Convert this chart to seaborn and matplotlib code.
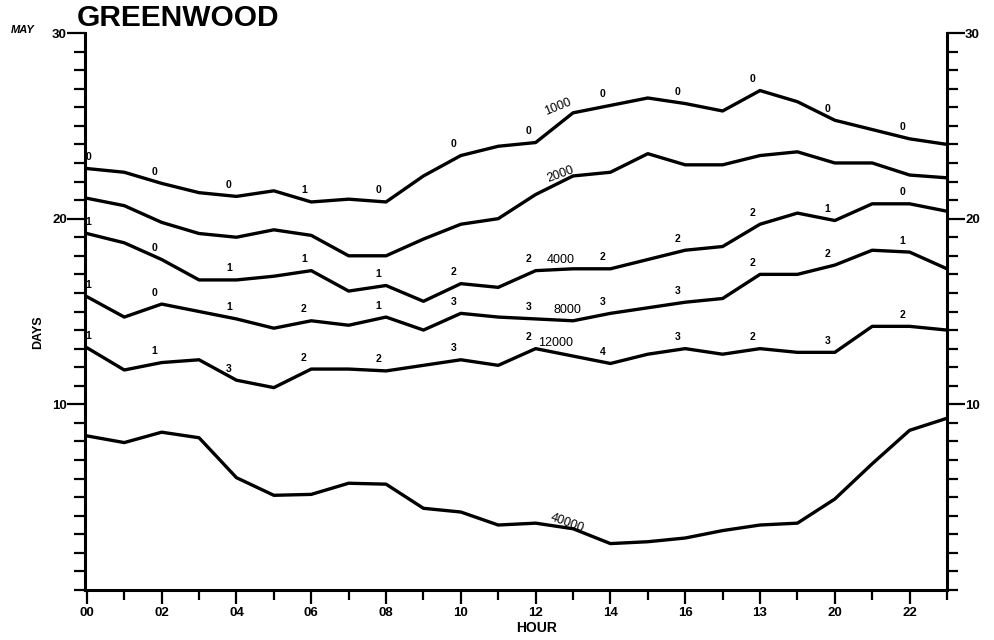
import matplotlib
matplotlib.use("Agg")
import matplotlib.pyplot as plt
import seaborn as sns
import pandas as pd
from matplotlib.ticker import FixedLocator, MultipleLocator

# ---------------- data ----------------
hours = list(range(24))
levels = ["1000", "2000", "4000", "8000", "12000", "40000"]

v1000 = [22.7, 22.5, 21.9, 21.4, 21.2, 21.5, 20.9, 21.05, 20.9, 22.3, 23.4, 23.9,
         24.1, 25.7, 26.1, 26.5, 26.2, 25.8, 26.9, 26.3, 25.3, 24.8, 24.3, 24.0]
v2000 = [21.1, 20.7, 19.8, 19.2, 19.0, 19.4, 19.1, 18.0, 18.0, 18.9, 19.7, 20.0,
         21.3, 22.3, 22.5, 23.5, 22.9, 22.9, 23.4, 23.6, 23.0, 23.0, 22.35, 22.2]
v4000 = [19.2, 18.7, 17.8, 16.7, 16.7, 16.9, 17.2, 16.1, 16.4, 15.55, 16.5, 16.3,
         17.2, 17.3, 17.3, 17.8, 18.3, 18.5, 19.7, 20.3, 19.9, 20.8, 20.8, 20.4]
v8000 = [15.8, 14.7, 15.4, 15.0, 14.6, 14.1, 14.5, 14.26, 14.7, 14.0, 14.9, 14.7,
         14.6, 14.5, 14.9, 15.2, 15.5, 15.7, 17.0, 17.0, 17.5, 18.3, 18.2, 17.3]
v12000 = [13.05, 11.85, 12.25, 12.4, 11.3, 10.9, 11.9, 11.9, 11.8, 12.1, 12.4, 12.1,
          13.0, 12.6, 12.2, 12.7, 13.0, 12.7, 13.0, 12.8, 12.8, 14.2, 14.2, 14.0]
v40000 = [8.3, 7.94, 8.5, 8.2, 6.05, 5.1, 5.15, 5.75, 5.7, 4.4, 4.2, 3.5,
          3.6, 3.3, 2.5, 2.6, 2.8, 3.2, 3.5, 3.6, 4.9, 6.8, 8.6, 9.25]

label_hours = [0, 2, 4, 6, 8, 10, 12, 14, 16, 18, 20, 22]
lab1000 = ["0", "0", "0", "1", "0", "0", "0", "0", "0", "0", "0", "0"]
lab4000 = ["1", "0", "1", "1", "1", "2", "2", "2", "2", "2", "1", "0"]
lab8000 = ["1", "0", "1", "2", "1", "3", "3", "3", "3", "2", "2", "1"]
lab12000 = ["1", "1", "3", "2", "2", "3", "2", "4", "3", "2", "3", "2"]

hour_ticks = [0, 2, 4, 6, 8, 10, 12, 14, 16, 18, 20, 22]
hour_tick_labels = ["00", "02", "04", "06", "08", "10", "12", "14", "16", "13", "20", "22"]
day_ticks = [10, 20, 30]
day_tick_labels = ["10", "20", "30"]

# ---------------- figure ----------------
sns.set_style("ticks")
plt.rcParams["font.family"] = ["Liberation Sans", "DejaVu Sans"]
plt.rcParams["text.color"] = "black"
plt.rcParams["axes.labelcolor"] = "black"
plt.rcParams["xtick.color"] = "black"
plt.rcParams["ytick.color"] = "black"
plt.rcParams["axes.edgecolor"] = "black"

series = {"1000": v1000, "2000": v2000, "4000": v4000,
          "8000": v8000, "12000": v12000, "40000": v40000}
rows = []
for lev in levels:
    for h, v in zip(hours, series[lev]):
        rows.append({"hour": h, "days": v, "level": lev})
df = pd.DataFrame(rows)

fig = plt.figure(figsize=(9.95, 6.4), dpi=100)
ax = fig.add_axes([85 / 995, 1 - 590 / 640, (947 - 85) / 995, (590 - 33) / 640])

sns.lineplot(data=df, x="hour", y="days", hue="level", hue_order=levels,
             palette=["black"] * len(levels), linewidth=2.4, legend=False,
             estimator=None, sort=False, ax=ax)

ax.set_xlim(-0.05, 23)
ax.set_ylim(0, 30)
ax.set_xlabel("")
ax.set_ylabel("")

for s in ["left", "right", "bottom"]:
    ax.spines[s].set_visible(True)
    ax.spines[s].set_linewidth(2.2)
    ax.spines[s].set_color("black")
ax.spines["top"].set_visible(False)

ax.xaxis.set_major_locator(FixedLocator(hour_ticks))
ax.xaxis.set_minor_locator(MultipleLocator(1))
ax.set_xticks(hour_ticks)
ax.set_xticklabels(hour_tick_labels)

ax.yaxis.set_major_locator(FixedLocator(day_ticks))
ax.yaxis.set_minor_locator(MultipleLocator(1))
ax.set_yticks(day_ticks)
ax.set_yticklabels(day_tick_labels)
ax.yaxis.set_ticks_position("both")

ax.tick_params(axis="y", which="major", direction="out", length=13, width=1.6,
               labelsize=9.5, pad=0, left=True, right=True, labelleft=True,
               labelright=True, colors="black")
ax.tick_params(axis="y", which="minor", direction="out", length=8, width=1.6,
               left=True, right=True, colors="black")
ax.tick_params(axis="x", which="major", direction="out", length=10, width=1.6,
               labelsize=9.5, pad=2, colors="black")
ax.tick_params(axis="x", which="minor", direction="out", length=7, width=1.6,
               colors="black")
for lab in ax.get_xticklabels() + ax.get_yticklabels():
    lab.set_fontweight("bold")
for lab in ax.yaxis.get_ticklabels(which="major"):
    lab.set_fontweight("bold")

# small numbers above lines
for lev, labs in [("1000", lab1000), ("4000", lab4000),
                  ("8000", lab8000), ("12000", lab12000)]:
    vals = series[lev]
    for h, s in zip(label_hours, labs):
        ax.text(h - 0.2 if h > 0 else h + 0.05, vals[h] + 0.62, s,
                fontsize=7.5, ha="center", va="center", fontweight="bold",
                color="black")

# level names along the lines
name_pos = [("1000", 12.6, 26.0, 22), ("2000", 12.67, 22.4, 20),
            ("4000", 12.67, 17.8, 0), ("8000", 12.85, 15.1, 0),
            ("12000", 12.53, 13.3, 0), ("40000", 12.85, 3.6, -20)]
for name, hx, vy, rot in name_pos:
    ax.text(hx, vy, name, fontsize=9, ha="center", va="center", rotation=rot,
            color="black")

# titles / axis names
fig.text(178 / 995, 1 - 18 / 640, "GREENWOOD", ha="center", va="center",
         fontsize=21.5, fontweight="heavy", color="black")
fig.text(23 / 995, 1 - 30 / 640, "MAY", ha="center", va="center",
         fontsize=8, fontweight="bold", style="italic", color="black")
fig.text(38 / 995, 1 - 332 / 640, "DAYS", ha="center", va="center",
         rotation=90, fontsize=9, fontweight="bold", color="black")
fig.text(537 / 995, 1 - 628 / 640, "HOUR", ha="center", va="center",
         fontsize=10, fontweight="bold", color="black")

fig.savefig("out.png", dpi=100)
